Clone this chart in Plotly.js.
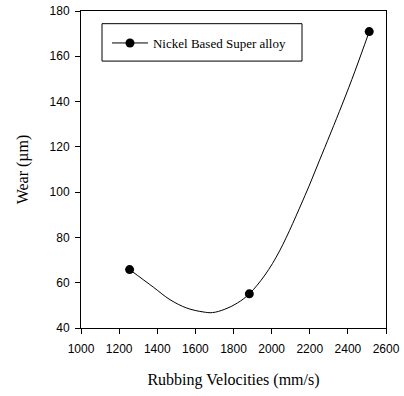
<!DOCTYPE html>
<html>
<head>
<meta charset="utf-8">
<script src="https://cdn.plot.ly/plotly-3.0.1.min.js"></script>
<style>body{margin:0;padding:0;background:#fff;}#chart{width:404px;height:396px;}</style>
</head>
<body>
<div id="chart"></div>
<script>
// measured points
const velocities = [1255, 1883, 2512];
const wear = [65.8, 55.1, 170.9];
const seriesName = "Nickel Based Super alloy";

// fitted curve
const curveVelocities = [1255, 1380, 1467, 1555, 1640, 1690, 1755, 1820, 1883, 1965, 2044, 2175, 2250, 2369, 2437, 2512];
const curveWear =       [65.8, 58.0, 52.5, 48.8, 47.1, 46.8, 48.3, 51.0, 55.1, 63.4, 74.4, 98.5, 113.8, 138.5, 153.4, 170.9];

const serif = "Liberation Serif, Times New Roman, serif";
const sans = "Liberation Sans, Arial, sans-serif";

const curve = {
  x: curveVelocities,
  y: curveWear,
  type: "scatter",
  mode: "lines",
  showlegend: false,
  hoverinfo: "skip",
  line: {color: "#000", width: 1, shape: "spline", smoothing: 1}
};

const points = {
  x: velocities,
  y: wear,
  type: "scatter",
  mode: "markers",
  name: seriesName,
  showlegend: false,
  marker: {color: "#000", size: 9}
};

// legend entry (line + marker look)
const legendEntry = {
  x: [null],
  y: [null],
  type: "scatter",
  mode: "lines+markers",
  name: seriesName,
  line: {color: "#000", width: 1},
  marker: {color: "#000", size: 9}
};

const layout = {
  width: 404,
  height: 396,
  margin: {l: 81, r: 18, t: 11, b: 68},
  paper_bgcolor: "#fff",
  plot_bgcolor: "#fff",
  showlegend: true,
  legend: {
    x: 0.0852, y: 0.899, xanchor: "left", yanchor: "middle",
    borderwidth: 0, bgcolor: "rgba(0,0,0,0)", itemwidth: 36,
    font: {family: serif, size: 13, color: "#000"}
  },
  shapes: [{
    type: "rect", xref: "paper", yref: "paper",
    x0: 0.0689, x1: 0.7246, y0: 0.842, y1: 0.96,
    line: {color: "#000", width: 1}, fillcolor: "rgba(0,0,0,0)"
  }],
  xaxis: {
    range: [1000, 2600], dtick: 200, tick0: 1000,
    ticks: "outside", ticklen: 5, tickcolor: "#000", ticklabelstandoff: 5,
    showgrid: false, zeroline: false,
    showline: true, linecolor: "#000", linewidth: 1, mirror: true,
    tickfont: {family: sans, size: 12, color: "#000"},
    title: {text: "Rubbing Velocities (mm/s)", standoff: 18,
      font: {family: serif, size: 16, color: "#000"}}
  },
  yaxis: {
    range: [40, 180], dtick: 20,
    ticks: "outside", ticklen: 5, tickcolor: "#000", ticklabelstandoff: 3,
    showgrid: false, zeroline: false,
    showline: true, linecolor: "#000", linewidth: 1, mirror: true,
    tickfont: {family: sans, size: 12, color: "#000"},
    title: {text: "Wear (µm)", standoff: 16,
      font: {family: serif, size: 16, color: "#000"}}
  }
};

Plotly.newPlot("chart", [curve, points, legendEntry], layout, {staticPlot: true, displayModeBar: false});
</script>
</body>
</html>
